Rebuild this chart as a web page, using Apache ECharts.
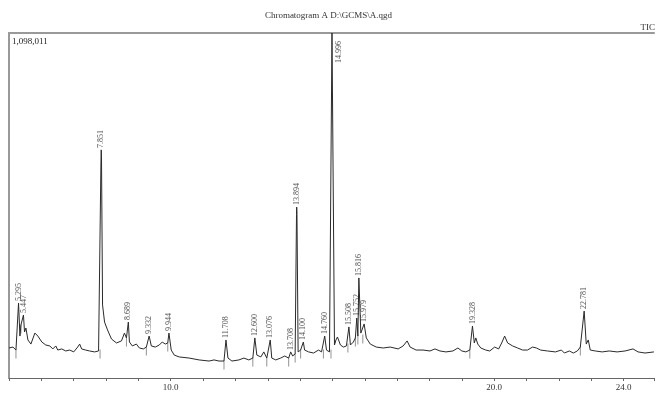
<!DOCTYPE html>
<html>
<head>
<meta charset="utf-8">
<title>Chromatogram</title>
<script src="https://cdn.jsdelivr.net/npm/echarts@6/dist/echarts.min.js"></script>
<style>
  html, body { margin: 0; padding: 0; background: #fff; }
  #chart { width: 657px; height: 400px; }
</style>
</head>
<body>
<div id="chart"></div>
<script>
  // retention time (min) and TIC intensity
  var retTimes = [
    5.000, 5.123, 5.215, 5.295, 5.338, 5.369, 5.447, 5.480, 5.523, 5.585,
    5.677, 5.800, 5.892, 6.015, 6.138, 6.262, 6.354, 6.446, 6.508, 6.631,
    6.754, 6.877, 7.000, 7.123, 7.185, 7.246, 7.369, 7.492, 7.646, 7.769,
    7.815, 7.843, 7.851, 7.860, 7.892, 7.954, 8.046, 8.169, 8.323, 8.477, 8.569, 8.631,
    8.689, 8.723, 8.815, 8.938, 9.031, 9.154, 9.246, 9.332, 9.400, 9.523,
    9.646, 9.738, 9.831, 9.908, 9.944, 10.015, 10.108, 10.262, 10.569, 10.877,
    11.185, 11.338, 11.492, 11.646, 11.708, 11.769, 11.892, 12.108, 12.262, 12.415,
    12.538, 12.600, 12.662, 12.785, 12.877, 12.969, 13.076, 13.123, 13.246, 13.400,
    13.523, 13.646, 13.708, 13.769, 13.846, 13.888, 13.894, 13.902, 13.938, 14.015, 14.100, 14.138,
    14.262, 14.415, 14.569, 14.662, 14.720, 14.760, 14.815, 14.908, 14.954, 14.985, 14.996, 15.008,
    15.062, 15.108, 15.154, 15.246, 15.338, 15.431, 15.477, 15.508, 15.554, 15.646,
    15.708, 15.752, 15.785, 15.816, 15.877, 15.938, 15.979, 16.046, 16.169, 16.354,
    16.569, 16.785, 17.031, 17.185, 17.308, 17.400, 17.585, 17.800, 18.015, 18.169,
    18.323, 18.508, 18.723, 18.877, 19.000, 19.123, 19.246, 19.328, 19.385, 19.431,
    19.492, 19.585, 19.738, 19.862, 20.015, 20.138, 20.231, 20.323, 20.415, 20.569,
    20.723, 20.877, 21.031, 21.185, 21.308, 21.431, 21.646, 21.892, 22.077, 22.169,
    22.323, 22.446, 22.569, 22.662, 22.781, 22.846, 22.908, 22.969, 23.123, 23.338,
    23.554, 23.800, 24.046, 24.292, 24.446, 24.662, 24.938
  ];
  var intensity = [
    95500, 98500, 89000, 238500, 133500, 168500, 200500, 146500, 159000, 121000,
    108000, 143000, 133500, 114500, 105000, 102000, 92500, 102000, 89000, 92500,
    86000, 89000, 83000, 98500, 108000, 92500, 89000, 86000, 83000, 86000,
    89000, 690000, 726000, 700000, 232500, 178000, 153000, 124000, 111500, 118000, 143000, 127500,
    178000, 114500, 102000, 108000, 95500, 92500, 98500, 133500, 102000, 98500,
    105000, 114500, 108000, 111500, 143000, 89000, 73000, 67000, 63500, 57500,
    54000, 57500, 54000, 54000, 121000, 63500, 54000, 57500, 63500, 57500,
    63500, 127500, 73000, 67000, 83000, 63500, 121000, 63500, 57500, 63500,
    70000, 63500, 83000, 70000, 76500, 520000, 544000, 525000, 83000, 89000, 114500, 89000,
    83000, 79500, 89000, 83000, 89000, 133500, 89000, 83000, 89000, 1098011, 1098011, 1098011,
    105000, 121000, 130500, 105000, 98500, 102000, 108000, 162500, 105000, 114500,
    127500, 191000, 133500, 318500, 143000, 137000, 172000, 127500, 108000, 98500,
    95500, 98500, 92500, 102000, 118000, 98500, 89000, 89000, 86000, 92500,
    86000, 83000, 86000, 95500, 86000, 83000, 89000, 165500, 111500, 127500,
    108000, 95500, 89000, 86000, 98500, 92500, 111500, 133500, 111500, 102000,
    95500, 89000, 89000, 98500, 95500, 89000, 86000, 83000, 89000, 79500,
    86000, 79500, 86000, 98500, 213000, 108000, 121000, 89000, 86000, 83000,
    86000, 83000, 86000, 92500, 83000, 79500, 83000
  ];

  // labelled peaks (retention times)
  var peakTimes = [
    5.295, 5.447, 7.851, 8.689, 9.332, 9.944, 11.708, 12.600, 13.076, 13.708,
    13.894, 14.100, 14.760, 14.996, 15.508, 15.752, 15.816, 15.979, 19.328, 22.781
  ];

  var tickLabels = ["10.0", "20.0", "24.0"];

  var yMax = 1098011;
  var serif = "Liberation Serif";

  var trace = retTimes.map(function (t, i) {
    return [t, intensity[i]];
  });

  var peaks = peakTimes.map(function (t) {
    var v = intensity[retTimes.indexOf(t)];
    if (v >= yMax) {
      // clipped peak: label sits inside the frame, right of the line
      return { value: [t, v], label: { position: [7, 30] } };
    }
    return { value: [t, v] };
  });

  // integration start marks: the trace point just before each peak
  var startMarks = peakTimes.map(function (t) {
    var i = retTimes.indexOf(t);
    var j = retTimes[i - 1] > t - 0.02 ? i - 2 : i - 1;
    return [retTimes[j], intensity[j]];
  });

  var chart = echarts.init(document.getElementById("chart"));

  var option = {
    animation: false,
    title: {
      text: "Chromatogram A D:\\GCMS\\A.qgd",
      left: "center",
      top: 6,
      textStyle: {
        fontFamily: serif,
        fontSize: 9,
        fontWeight: "normal",
        color: "#333"
      }
    },
    graphic: [
      {
        type: "text",
        right: 2,
        top: 23,
        style: { text: "TIC", font: "9px " + serif, fill: "#333" }
      }
    ],
    grid: { left: 9, right: 0, top: 33, bottom: 22 },
    xAxis: [
      {
        type: "value",
        min: 5,
        max: 24.94,
        interval: 1,
        axisLine: { lineStyle: { color: "#666", width: 1 } },
        axisTick: { length: 3, lineStyle: { color: "#666" } },
        splitLine: { show: false },
        axisLabel: {
          margin: 5,
          fontFamily: serif,
          fontSize: 9,
          color: "#333",
          formatter: function (v) {
            var s = v.toFixed(1);
            return tickLabels.indexOf(s) >= 0 ? s : "";
          }
        }
      },
      {
        type: "value",
        position: "top",
        min: 5,
        max: 24.94,
        axisLine: { show: true, lineStyle: { color: "#999", width: 2 } },
        axisTick: { show: false },
        axisLabel: { show: false },
        splitLine: { show: false }
      }
    ],
    yAxis: {
      type: "value",
      min: 0,
      max: yMax,
      interval: yMax,
      axisLine: { show: true, lineStyle: { color: "#999", width: 2 } },
      axisTick: { show: false },
      splitLine: { show: false },
      axisLabel: {
        inside: true,
        margin: 3,
        verticalAlign: "top",
        padding: [4, 0, 0, 0],
        fontFamily: serif,
        fontSize: 9,
        color: "#222",
        formatter: function (v) {
          return v === yMax ? v.toLocaleString("en-US") : "";
        }
      }
    },
    series: [
      {
        type: "line",
        data: trace,
        showSymbol: false,
        lineStyle: { color: "#2a2a2a", width: 1 },
        z: 3
      },
      {
        type: "scatter",
        data: startMarks,
        symbol: "rect",
        symbolSize: [1, 9],
        symbolOffset: [0, 4],
        itemStyle: { color: "#777" },
        z: 2
      },
      {
        type: "scatter",
        data: peaks,
        symbolSize: 0,
        label: {
          show: true,
          position: "top",
          distance: 2,
          rotate: 90,
          align: "left",
          verticalAlign: "middle",
          fontFamily: serif,
          fontSize: 8,
          color: "#222",
          formatter: function (p) {
            return p.value[0].toFixed(3);
          }
        },
        z: 4
      }
    ]
  };

  chart.setOption(option);
</script>
</body>
</html>
